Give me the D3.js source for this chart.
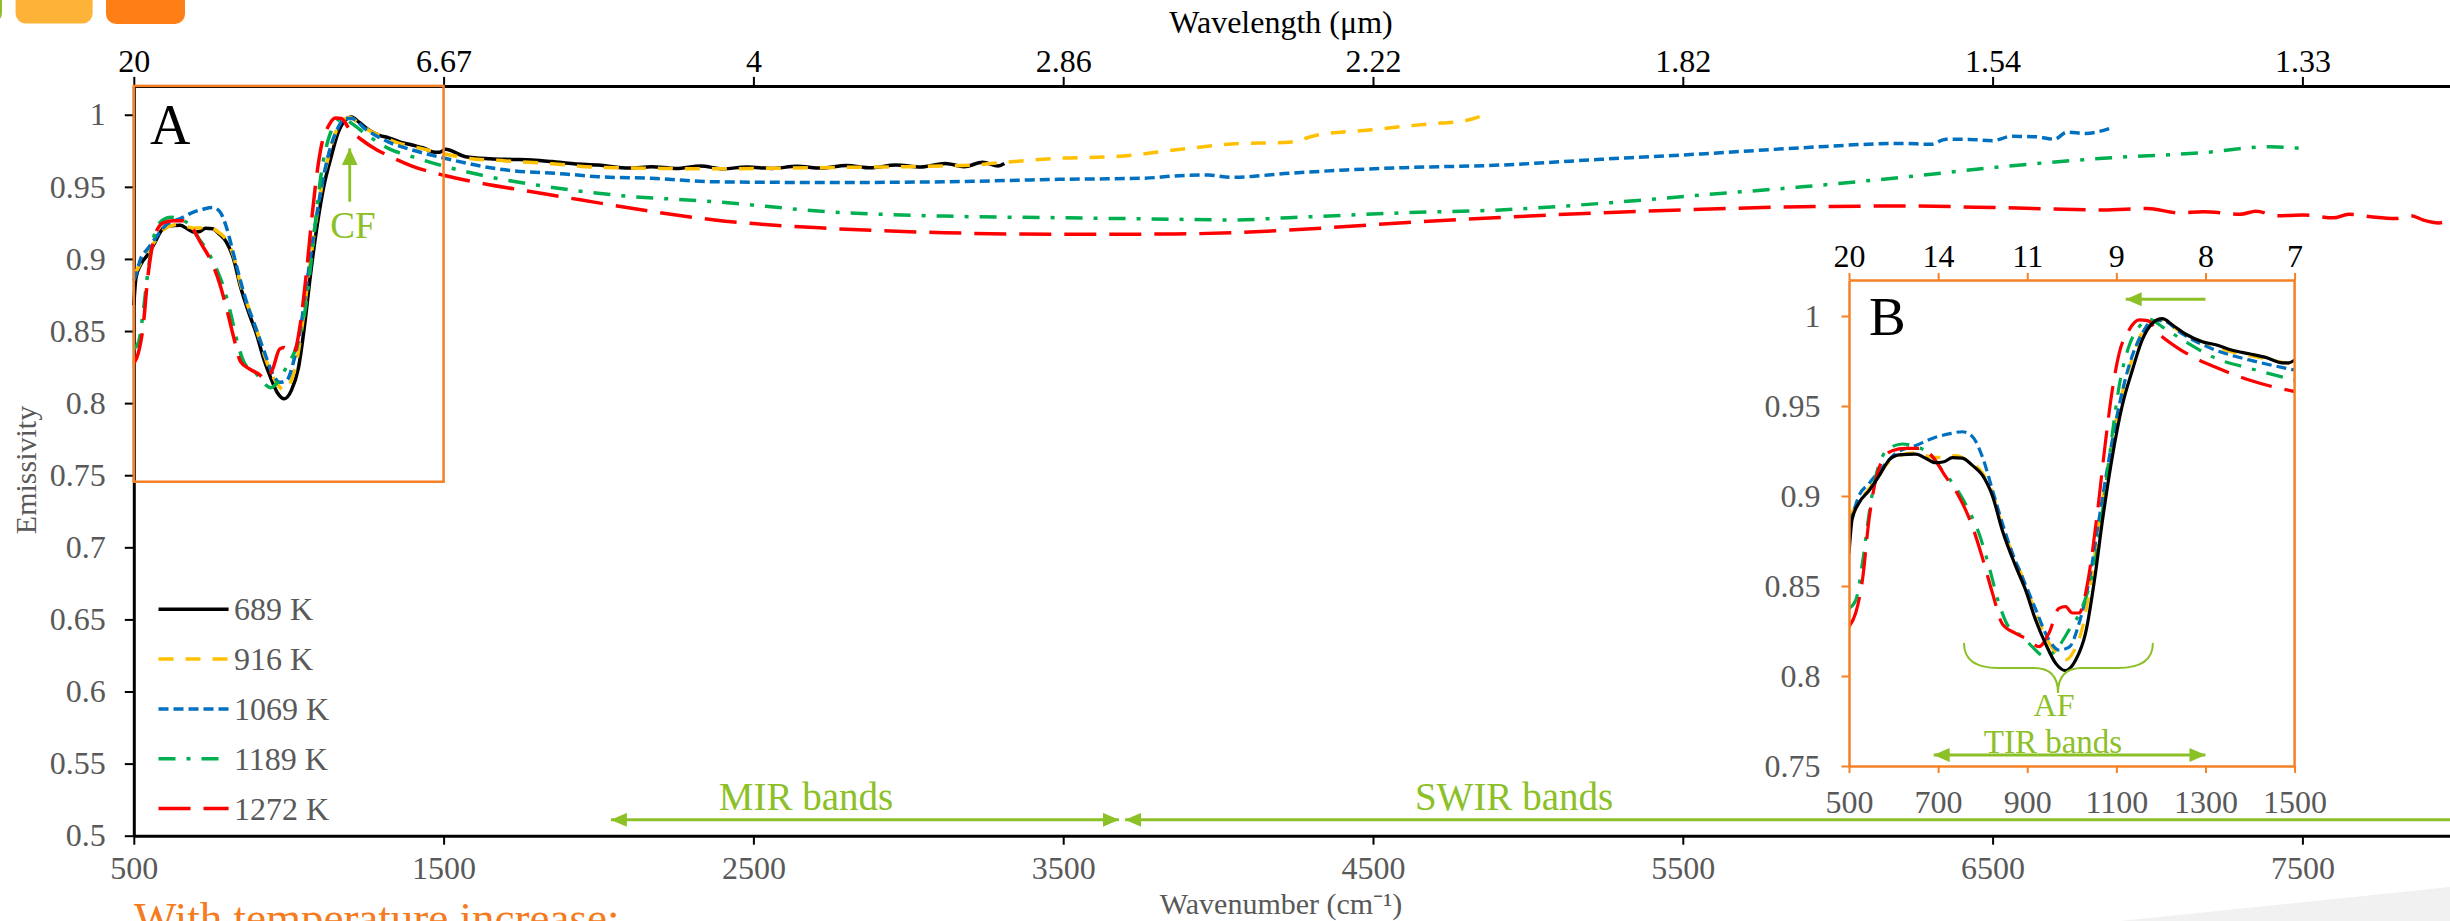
<!DOCTYPE html>
<html><head><meta charset="utf-8">
<script src="https://cdn.jsdelivr.net/npm/d3@7"></script>
<style>
body{margin:0;background:#fff}
svg{display:block}
text{font-family:"Liberation Serif","Times New Roman",serif}
</style>
</head><body>
<svg id="c" width="2450" height="921"></svg>
<script>
// ---------------- DATA ----------------
const seriesNames = ["689 K","916 K","1069 K","1189 K","1272 K"];
const seriesColors = ["#000000","#FFC000","#0070C0","#00B050","#FF0000"];

const s689 = [[500,0.868],[507,0.887],[522,0.896],[545,0.903],[567,0.911],[590,0.920],[612,0.9228],[650,0.9233],[672,0.921],[694,0.9185],[713,0.919],[732,0.9213],[754,0.921],[777,0.917],[799,0.9117],[822,0.900],[844,0.881],[874,0.861],[896,0.848],[919,0.831],[941,0.818],[964,0.807],[986,0.803],[1009,0.809],[1031,0.824],[1053,0.857],[1068,0.885],[1091,0.922],[1113,0.950],[1136,0.970],[1158,0.9867],[1181,0.996],[1203,0.9985],[1226,0.995],[1255,0.990],[1293,0.9857],[1323,0.984],[1360,0.981],[1398,0.979],[1435,0.977],[1472,0.974],[1487,0.974],[1506,0.976],[1571,0.9709],[1650,0.9695],[1720,0.969],[1785,0.9686],[1850,0.9675],[1920,0.966],[1999,0.9651],[2100,0.9630],[2171,0.9640],[2250,0.9628],[2330,0.9645],[2400,0.9625],[2480,0.9638],[2560,0.9628],[2640,0.9642],[2720,0.9630],[2800,0.9648],[2880,0.9632],[2960,0.9652],[3040,0.9638],[3120,0.9662],[3180,0.9640],[3240,0.9670],[3290,0.9645],[3310,0.9662]];

const s916 = [[500,0.888],[507,0.891],[522,0.897],[545,0.904],[567,0.912],[590,0.919],[612,0.9225],[650,0.924],[690,0.9215],[713,0.9215],[740,0.9225],[770,0.919],[799,0.913],[822,0.902],[844,0.883],[874,0.864],[896,0.851],[919,0.835],[941,0.822],[964,0.813],[986,0.809],[1005,0.814],[1025,0.828],[1045,0.856],[1062,0.885],[1085,0.922],[1108,0.952],[1130,0.972],[1152,0.988],[1175,0.996],[1198,0.998],[1226,0.994],[1260,0.989],[1300,0.985],[1360,0.980],[1420,0.977],[1500,0.973],[1571,0.970],[1700,0.968],[1850,0.966],[2000,0.9635],[2200,0.9628],[2400,0.9625],[2600,0.963],[2800,0.9635],[3000,0.964],[3200,0.965],[3300,0.9668],[3487,0.9698],[3672,0.971],[3858,0.9755],[4043,0.9797],[4229,0.981],[4321,0.9859],[4487,0.9894],[4673,0.9935],[4800,0.996],[4860,1.0]];

const s1069 = [[500,0.885],[507,0.889],[522,0.9],[545,0.907],[575,0.916],[605,0.9237],[650,0.928],[687,0.932],[724,0.9345],[754,0.9357],[777,0.933],[799,0.922],[822,0.9033],[844,0.885],[867,0.868],[889,0.855],[919,0.837],[949,0.82],[971,0.8144],[994,0.816],[1016,0.829],[1039,0.853],[1061,0.887],[1083,0.92],[1106,0.95],[1128,0.972],[1158,0.9904],[1181,0.9974],[1203,0.9974],[1248,0.990],[1323,0.981],[1398,0.9756],[1500,0.970],[1678,0.9623],[1892,0.9589],[2000,0.957],[2171,0.9559],[2375,0.9535],[2746,0.953],[3115,0.9535],[3487,0.9552],[3764,0.956],[3858,0.9575],[3969,0.9582],[4043,0.9566],[4229,0.9594],[4413,0.9617],[4599,0.9633],[4911,0.9651],[5236,0.9691],[5559,0.9728],[5884,0.9771],[6208,0.9801],[6300,0.9795],[6350,0.9830],[6425,0.9829],[6500,0.9820],[6560,0.9850],[6640,0.9847],[6700,0.9830],[6740,0.9880],[6800,0.9870],[6879,0.9906]];

const s1189 = [[500,0.8376],[515,0.842],[530,0.8626],[545,0.890],[560,0.911],[575,0.922],[597,0.9274],[620,0.9289],[650,0.9274],[680,0.9237],[709,0.9144],[739,0.905],[769,0.892],[792,0.879],[814,0.861],[837,0.84],[859,0.827],[889,0.822],[911,0.8163],[941,0.8107],[964,0.8144],[994,0.8256],[1024,0.8385],[1053,0.8644],[1076,0.905],[1091,0.9348],[1106,0.9607],[1128,0.983],[1151,0.994],[1173,0.9982],[1203,0.994],[1255,0.9857],[1323,0.9765],[1398,0.971],[1500,0.9644],[1624,0.958],[1839,0.950],[2053,0.9443],[2375,0.9397],[2746,0.9327],[3115,0.9297],[3487,0.9286],[3858,0.9275],[4043,0.927],[4229,0.9286],[4599,0.932],[4911,0.934],[5236,0.9385],[5559,0.9443],[5884,0.950],[6208,0.9566],[6532,0.964],[6857,0.9698],[7179,0.9737],[7396,0.9778],[7494,0.9767]];

const s1272 = [[500,0.8274],[515,0.835],[530,0.853],[545,0.887],[560,0.909],[575,0.920],[597,0.9252],[627,0.9265],[657,0.9265],[687,0.922],[717,0.9107],[747,0.8996],[777,0.883],[799,0.866],[822,0.846],[844,0.829],[874,0.8237],[904,0.82],[926,0.8163],[949,0.824],[971,0.8376],[986,0.8385],[1001,0.835],[1016,0.835],[1039,0.857],[1057,0.890],[1076,0.931],[1091,0.959],[1106,0.979],[1128,0.992],[1151,0.9978],[1170,0.9974],[1196,0.990],[1233,0.983],[1285,0.9756],[1323,0.9715],[1398,0.9644],[1500,0.958],[1624,0.9524],[1785,0.9466],[1946,0.9408],[2171,0.933],[2375,0.927],[2746,0.9212],[3115,0.9182],[3487,0.9171],[3858,0.9173],[4043,0.9182],[4229,0.920],[4599,0.9251],[4911,0.9288],[5236,0.932],[5559,0.9344],[5884,0.9362],[6208,0.9367],[6532,0.9355],[6857,0.934],[7000,0.9350],[7100,0.9320],[7179,0.9327],[7300,0.9310],[7350,0.9330],[7420,0.9300],[7504,0.9304],[7600,0.9285],[7650,0.9310],[7720,0.9293],[7800,0.9280],[7850,0.9300],[7890,0.927],[7940,0.9250],[7980,0.9280]];

const mainXMajor = [500,1500,2500,3500,4500,5500,6500,7500];
const mainXLabels = ["500","1500","2500","3500","4500","5500","6500","7500"];
const wavelengthLabels = ["20","6.67","4","2.86","2.22","1.82","1.54","1.33"];
const mainYMajor = [0.5,0.55,0.6,0.65,0.7,0.75,0.8,0.85,0.9,0.95,1];
const mainYLabels = ["0.5","0.55","0.6","0.65","0.7","0.75","0.8","0.85","0.9","0.95","1"];
const insetXMajor = [500,700,900,1100,1300,1500];
const insetXLabels = ["500","700","900","1100","1300","1500"];
const insetTopLabels = ["20","14","11","9","8","7"];
const insetYMajor = [0.75,0.8,0.85,0.9,0.95,1];
const insetYLabels = ["0.75","0.8","0.85","0.9","0.95","1"];

// --------------- STYLES ---------------
const allSeries = [s689, s916, s1069, s1189, s1272];
const dashes = [null, "15,12", "10,5", "17,11,4,11", "32,13"];
const ORANGE = "#F58025", GREEN = "#8CC027", GRAY = "#595959";
const FONT = '"Liberation Serif","Times New Roman",serif';

const svg = d3.select("#c");
svg.append("rect").attr("width",2450).attr("height",921).attr("fill","#fff");

// decorations at page edges
svg.append("rect").attr("x",-20).attr("y",-14).attr("width",22).attr("height",37).attr("rx",10).attr("fill","#8CC027");
svg.append("rect").attr("x",15.6).attr("y",-14).attr("width",77).attr("height",37.5).attr("rx",10).attr("fill","#FDB338");
svg.append("rect").attr("x",106).attr("y",-14).attr("width",79).attr("height",38).attr("rx",10).attr("fill","#FF7F17");
svg.append("polygon").attr("points","2120,921 2450,887 2450,921").attr("fill","#F1F1F1");

const defs = svg.append("defs");
function marker(id, len, half){
  defs.append("marker").attr("id",id).attr("markerUnits","userSpaceOnUse")
    .attr("viewBox",`0 ${-half} ${len} ${2*half}`).attr("refX",len).attr("refY",0)
    .attr("markerWidth",len).attr("markerHeight",2*half).attr("orient","auto-start-reverse")
    .append("path").attr("d",`M0,${-half}L${len},0L0,${half}Z`).attr("fill",GREEN);
}
marker("ah", 16, 7);
marker("ahBig", 17, 8);

// ---------------- MAIN CHART ----------------
const x = d3.scaleLinear().domain([500,8000]).range([133.8,2457.3]);
const y = d3.scaleLinear().domain([0.5,1.02]).range([835.7,85.9]);

function styleAxis(g, textColor, lineColor, domainW){
  g.attr("font-family",FONT).attr("font-size",32);
  g.selectAll(".domain").attr("stroke",lineColor).attr("stroke-width",domainW);
  g.selectAll(".tick line").attr("stroke",lineColor).attr("stroke-width",2);
  g.selectAll(".tick text").attr("fill",textColor);
}

const minorX = d3.range(500, 8000, 200);
const minorY = d3.range(0, 21).map(i => 0.5 + i*0.025);

// bottom
const gb = svg.append("g").attr("transform",`translate(0,${y(0.5)})`);
gb.call(d3.axisBottom(x).tickValues(minorX).tickSize(7).tickSizeOuter(0).tickFormat(""));
gb.call(d3.axisBottom(x).tickValues(mainXMajor).tickSize(9).tickSizeOuter(0).tickPadding(12).tickFormat((d,i)=>mainXLabels[i]));
styleAxis(gb, GRAY, "#000", 3);
// top
const gt = svg.append("g").attr("transform",`translate(0,${y(1.02)})`);
gt.call(d3.axisTop(x).tickValues(minorX).tickSize(7).tickSizeOuter(0).tickFormat(""));
gt.call(d3.axisTop(x).tickValues(mainXMajor).tickSize(9).tickSizeOuter(0).tickPadding(5).tickFormat((d,i)=>wavelengthLabels[i]));
styleAxis(gt, "#000", "#000", 3);
// left
const gl = svg.append("g").attr("transform",`translate(${x(500)},0)`);
gl.call(d3.axisLeft(y).tickValues(minorY).tickSize(7).tickSizeOuter(0).tickFormat(""));
gl.call(d3.axisLeft(y).tickValues(mainYMajor).tickSize(9).tickSizeOuter(0).tickPadding(19).tickFormat((d,i)=>mainYLabels[i]));
styleAxis(gl, GRAY, "#000", 3);

// axis titles
svg.append("text").attr("x",1281).attr("y",33).attr("text-anchor","middle").attr("font-size",32).attr("fill","#000").text("Wavelength (μm)");
svg.append("text").attr("x",1281).attr("y",914).attr("text-anchor","middle").attr("font-size",30).attr("fill",GRAY).text("Wavenumber (cm⁻¹)");
svg.append("text").attr("transform","translate(36,470) rotate(-90)").attr("text-anchor","middle").attr("font-size",30).attr("fill",GRAY).text("Emissivity");

// lines
const lineMain = d3.line().x(d=>x(d[0])).y(d=>y(d[1])).curve(d3.curveMonotoneX);
allSeries.forEach((s,i)=>{
  svg.append("path").datum(s).attr("d",lineMain).attr("fill","none")
    .attr("stroke",seriesColors[i]).attr("stroke-width",3.5)
    .attr("stroke-dasharray",dashes[i]).attr("stroke-linejoin","round");
});

// orange zoom box
svg.append("rect").attr("x",x(500)).attr("y",y(1.02)).attr("width",x(1500)-x(500)).attr("height",y(0.7455)-y(1.02))
  .attr("fill","none").attr("stroke",ORANGE).attr("stroke-width",2.5);

svg.append("text").attr("x",150).attr("y",144).attr("font-size",56).attr("fill","#000").text("A");

// CF annotation
svg.append("line").attr("x1",x(1197)).attr("x2",x(1197)).attr("y1",y(0.9397)).attr("y2",y(0.9767))
  .attr("stroke",GREEN).attr("stroke-width",2.8).attr("marker-end","url(#ahBig)");
svg.append("text").attr("x",353).attr("y",238).attr("text-anchor","middle").attr("font-size",37).attr("fill",GREEN).text("CF");

// legend
seriesNames.forEach((n,i)=>{
  const ly = 609.3 + i*49.8;
  svg.append("line").attr("x1",158.5).attr("x2",228.6).attr("y1",ly).attr("y2",ly)
    .attr("stroke",seriesColors[i]).attr("stroke-width",3.5).attr("stroke-dasharray",dashes[i]);
  svg.append("text").attr("x",234).attr("y",ly+11).attr("font-size",32).attr("fill",GRAY).text(n);
});

// band arrows
svg.append("line").attr("x1",x(3680)).attr("x2",x(2040)).attr("y1",y(0.511)).attr("y2",y(0.511))
  .attr("stroke",GREEN).attr("stroke-width",3).attr("marker-end","url(#ah)").attr("marker-start","url(#ah)");
svg.append("line").attr("x1",2470).attr("x2",x(3700)).attr("y1",y(0.511)).attr("y2",y(0.511))
  .attr("stroke",GREEN).attr("stroke-width",3).attr("marker-end","url(#ah)");
svg.append("text").attr("x",806).attr("y",810).attr("text-anchor","middle").attr("font-size",39).attr("fill",GREEN).text("MIR bands");
svg.append("text").attr("x",1514).attr("y",810).attr("text-anchor","middle").attr("font-size",39).attr("fill",GREEN).text("SWIR bands");

// ---------------- INSET ----------------
const xi = d3.scaleLinear().domain([500,1500]).range([1849,2294.6]);
const yi = d3.scaleLinear().domain([0.75,1.02]).range([766,280]);

svg.append("rect").attr("x",xi(500)).attr("y",yi(1.02)).attr("width",xi(1500)-xi(500)).attr("height",yi(0.75)-yi(1.02)).attr("fill","#fff");
defs.append("clipPath").attr("id","clipI").append("rect")
  .attr("x",xi(500)).attr("y",yi(1.02)).attr("width",xi(1500)-xi(500)).attr("height",yi(0.75)-yi(1.02));

const lineInset = d3.line().x(d=>xi(d[0])).y(d=>yi(d[1])).curve(d3.curveMonotoneX);
const gi = svg.append("g").attr("clip-path","url(#clipI)");
[1,2,3,4,0].forEach(i=>{
  gi.append("path").datum(allSeries[i].filter(d=>d[0]<=1575)).attr("d",lineInset).attr("fill","none")
    .attr("stroke",seriesColors[i]).attr("stroke-width",3.2)
    .attr("stroke-dasharray",dashes[i]).attr("stroke-linejoin","round");
});

const minorXi = d3.range(500, 1501, 100);
const minorYi = d3.range(0, 11).map(i => 0.75 + i*0.025);

const gib = svg.append("g").attr("transform",`translate(0,${yi(0.75)})`);
gib.call(d3.axisBottom(xi).tickValues(minorXi).tickSize(7).tickSizeOuter(0).tickFormat(""));
gib.call(d3.axisBottom(xi).tickValues(insetXMajor).tickSize(7).tickSizeOuter(0).tickPadding(17).tickFormat((d,i)=>insetXLabels[i]));
styleAxis(gib, GRAY, ORANGE, 2.5);
const git = svg.append("g").attr("transform",`translate(0,${yi(1.02)})`);
git.call(d3.axisTop(xi).tickValues(minorXi).tickSize(7).tickSizeOuter(0).tickFormat(""));
git.call(d3.axisTop(xi).tickValues(insetXMajor).tickSize(7).tickSizeOuter(0).tickPadding(6).tickFormat((d,i)=>insetTopLabels[i]));
styleAxis(git, "#000", ORANGE, 2.5);
const gil = svg.append("g").attr("transform",`translate(${xi(500)},0)`);
gil.call(d3.axisLeft(yi).tickValues(minorYi).tickSize(6).tickSizeOuter(0).tickFormat(""));
gil.call(d3.axisLeft(yi).tickValues(insetYMajor).tickSize(7.5).tickSizeOuter(0).tickPadding(21).tickFormat((d,i)=>insetYLabels[i]));
styleAxis(gil, GRAY, ORANGE, 2.5);
svg.append("line").attr("x1",xi(1500)).attr("x2",xi(1500)).attr("y1",yi(1.02)).attr("y2",yi(0.75))
  .attr("stroke",ORANGE).attr("stroke-width",2.5);

svg.append("text").attr("x",1869).attr("y",335).attr("font-size",55).attr("fill","#000").text("B");

// inset annotations
svg.append("line").attr("x1",xi(1300)).attr("x2",xi(1121)).attr("y1",yi(1.0093)).attr("y2",yi(1.0093))
  .attr("stroke",GREEN).attr("stroke-width",2.8).attr("marker-end","url(#ah)");
svg.append("line").attr("x1",xi(690)).attr("x2",xi(1300)).attr("y1",yi(0.7561)).attr("y2",yi(0.7561))
  .attr("stroke",GREEN).attr("stroke-width",2.8).attr("marker-end","url(#ah)").attr("marker-start","url(#ah)");
svg.append("path").attr("d",
  `M${xi(758)},${yi(0.8183)} C${xi(758)},${yi(0.809)} ${xi(785)},${yi(0.8044)} ${xi(835)},${yi(0.8044)}
   L${xi(915)},${yi(0.8044)} C${xi(950)},${yi(0.8044)} ${xi(969)},${yi(0.8)} ${xi(969)},${yi(0.7906)}
   C${xi(969)},${yi(0.8)} ${xi(988)},${yi(0.8044)} ${xi(1023)},${yi(0.8044)}
   L${xi(1103)},${yi(0.8044)} C${xi(1155)},${yi(0.8044)} ${xi(1182)},${yi(0.809)} ${xi(1182)},${yi(0.8183)}`)
  .attr("fill","none").attr("stroke",GREEN).attr("stroke-width",2);
svg.append("text").attr("x",2054).attr("y",716).attr("text-anchor","middle").attr("font-size",32).attr("fill",GREEN).text("AF");
svg.append("text").attr("x",2053).attr("y",753).attr("text-anchor","middle").attr("font-size",33).attr("fill",GREEN).text("TIR bands");

// bottom caption (cut off by page edge, as in the source figure)
svg.append("text").attr("x",134).attr("y",933).attr("font-size",45).attr("fill","#F47B20").text("With temperature increase:");
</script>
</body></html>
